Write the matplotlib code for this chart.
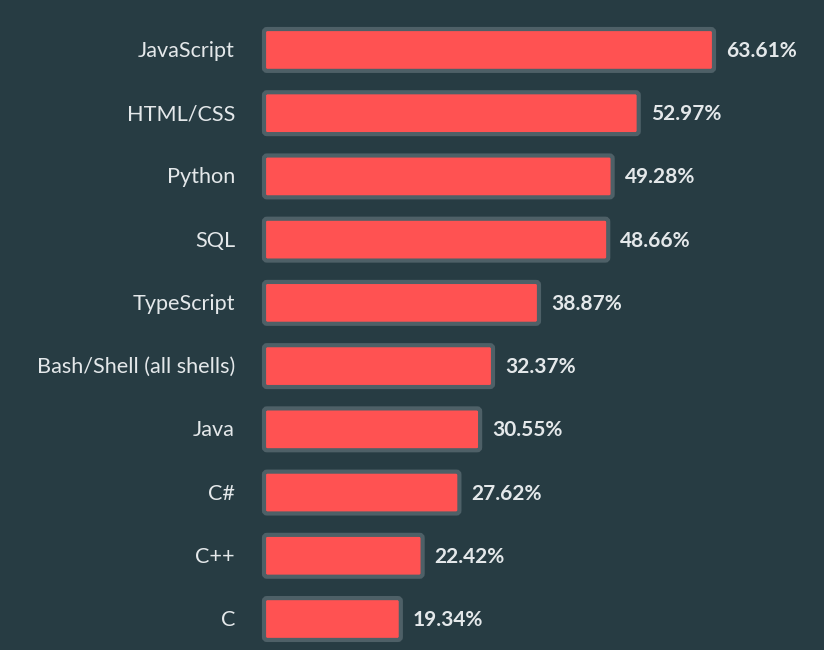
import matplotlib
matplotlib.use("AGG")
import matplotlib.pyplot as plt
from matplotlib.patches import FancyBboxPatch

languages = ["JavaScript", "HTML/CSS", "Python", "SQL", "TypeScript",
             "Bash/Shell (all shells)", "Java", "C#", "C++", "C"]
shares = [63.61, 52.97, 49.28, 48.66, 38.87, 32.37, 30.55, 27.62, 22.42, 19.34]

bg = "#273c43"
barColor = "#ff5252"
edgeColor = "#4e6067"
textColor = "#e4e8ea"

fig = plt.figure(figsize=(8.24, 6.5), dpi=100)
fig.patch.set_facecolor(bg)
ax = fig.add_axes([0, 0, 1, 1])
ax.set_facecolor(bg)

pos = list(range(len(languages)))
bars = ax.barh(pos, shares, height=0.662)

# swap the plain rectangles for rounded ones
for b in bars:
	b.set_visible(False)
	rb = FancyBboxPatch((b.get_x(), b.get_y()), b.get_width(), b.get_height(),
	                    boxstyle="round,pad=0,rounding_size=0.42", mutation_aspect=0.112,
	                    facecolor=barColor, edgecolor=edgeColor, linewidth=3.0)
	ax.add_patch(rb)

for i in pos:
	ax.annotate(languages[i], xy=(0, i), xytext=(-29, -1), textcoords="offset pixels",
	            ha="right", va="center", color=textColor, fontsize=15.6, family="Lato")
	ax.annotate("%.2f%%" % shares[i], xy=(shares[i], i), xytext=(12, -1),
	            textcoords="offset pixels", ha="left", va="center", color=textColor,
	            fontsize=15, fontweight="bold", family="Lato")

ax.set_xlim(-37.32, 79.16)
ax.set_ylim(9.49, -0.79)
ax.axis("off")

fig.savefig("out.png", dpi=100, facecolor=bg)
